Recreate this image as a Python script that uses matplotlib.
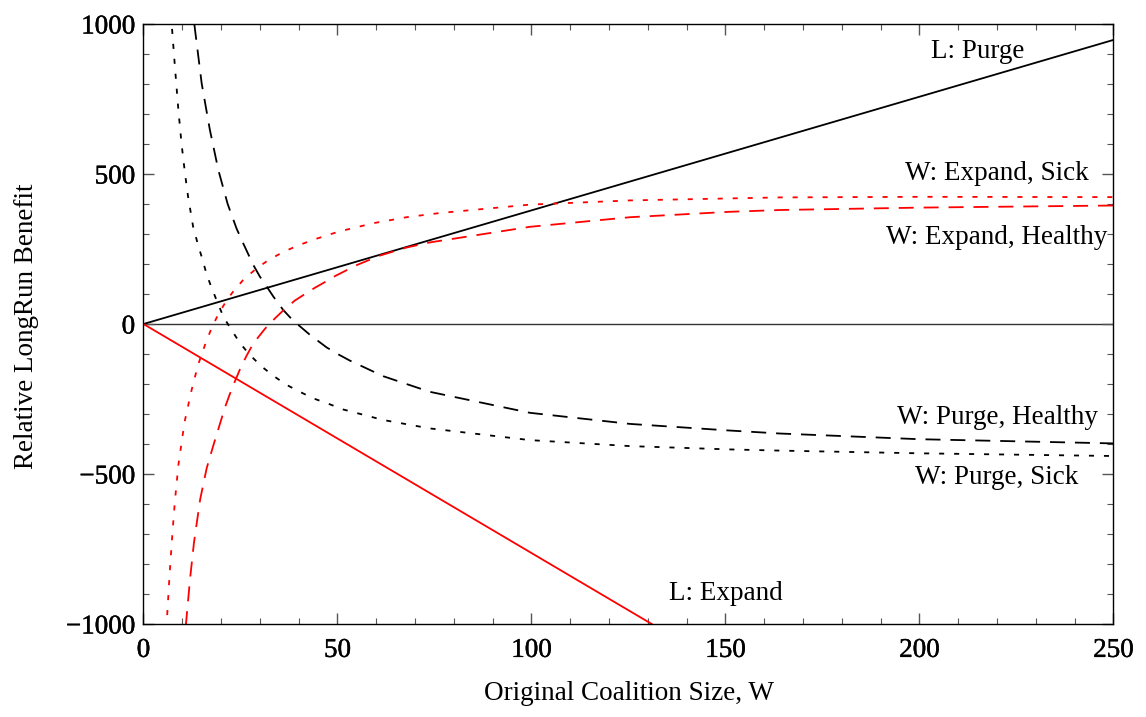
import numpy as np
import matplotlib
matplotlib.use('Agg')
import matplotlib.pyplot as plt
import matplotlib.patheffects as pe
from matplotlib.ticker import MultipleLocator

plt.rcParams['font.family'] = ['Liberation Serif', 'DejaVu Serif']

# values
# L lines (straight, through the origin)
l_purge_w = [0, 250]
l_purge_v = [0, 947]
l_expand_w = [0, 131]
l_expand_v = [0, -1000]

# W: Purge, Healthy (black dashed)
ph_w = [12.6, 13.1, 15.0, 17.1, 19.3, 21.7, 24.0, 25.7, 28.3, 30.0, 31.8, 33.5, 36.0,
        37.8, 39.9, 42.9, 47.2, 50.2, 53.2, 61.8, 73.8, 99.6, 125.4, 151, 164, 200, 250]
ph_v = [1080, 1000, 802, 648, 513, 400, 318, 269, 197, 158, 124, 91, 47,
        22, -3, -36, -78, -101, -122, -174, -226, -296, -333, -355, -365, -384, -398]

# W: Purge, Sick (black dotted)
ps_w = [6.8, 7.27, 8.1, 9.0, 9.8, 10.7, 11.5, 12.8, 14.1, 15.0, 16.3, 17.6, 20.6, 22.7,
        24.9, 27.4, 30.5, 33.5, 36.9, 40.3, 43.8, 48.1, 51.5, 61.8, 73.8, 99.6, 125.4,
        151, 164, 200, 250]
ps_v = [1090, 1000, 858, 713, 602, 502, 424, 324, 262, 224, 165, 119, 24, -20,
        -64, -103, -142, -173, -203, -226, -248, -268, -285, -320, -348, -387, -407,
        -418, -422, -431, -440]

# W: Expand, Sick (red dotted)
es_w = [5.6, 5.97, 6.8, 7.5, 8.1, 9.0, 10.1, 10.7, 12.4, 14.1, 15.9, 17.6, 19.3, 21.4,
        23.1, 25.7, 29.2, 32.2, 36.0, 39.5, 43.8, 48.1, 50.6, 59.2, 67.8, 76.4, 99.6,
        125.4, 164, 200, 250]
es_v = [-1120, -1000, -820, -690, -590, -470, -370, -320, -220, -135, -68, -12, 33, 78,
        108, 147, 186, 213, 240, 260, 281, 299, 309, 336, 356, 370, 398,
        412, 422, 424, 423]

# W: Expand, Healthy (red dashed)
eh_w = [10.5, 10.95, 12.0, 13.0, 14.6, 16.3, 18.0, 19.3, 21.0, 22.3, 23.6, 24.9, 26.6,
        28.3, 31.3, 33.9, 36.0, 39.0, 42.1, 44.2, 46.8, 49.4, 54.9, 60.9, 67.8, 73.8,
        99.6, 125.4, 151, 164, 200, 250]
eh_v = [-1090, -1000, -850, -730, -585, -480, -405, -350, -278, -232, -190, -150, -105,
        -65, -16, 19, 45, 78, 104, 121, 140, 160, 196, 228, 255, 272,
        324, 356, 374, 380, 388, 395]

labels = ['L: Purge', 'L: Expand', 'W: Expand, Sick', 'W: Expand, Healthy',
          'W: Purge, Healthy', 'W: Purge, Sick']
label_pos = [(215, 907), (150, -897), (220, 503), (220, 290), (220, -310), (220, -513)]

fig = plt.figure(figsize=(11.46, 7.17), dpi=100)
ax = fig.add_axes([0.1252, 0.1297, 0.8464, 0.8368])

ax.axhline(0, color='#333333', lw=1.0, zorder=1)

lw = 1.3
dashed = (8.3, 5.5)
dotted = (2.8, 5.5)
ax.plot(l_purge_w, l_purge_v, color='black', lw=lw)
ax.plot(l_expand_w, l_expand_v, color='red', lw=lw)
ax.plot(ph_w, ph_v, color='black', lw=lw, dashes=dashed)
ax.plot(ps_w, ps_v, color='black', lw=lw, dashes=dotted)
ax.plot(es_w, es_v, color='red', lw=lw, dashes=dotted)
ax.plot(eh_w, eh_v, color='red', lw=lw, dashes=dashed)

for txt, (x, y) in zip(labels, label_pos):
    ax.text(x, y, txt, ha='center', va='center', fontsize=19.5)

ax.set_xlim(0, 250)
ax.set_ylim(-1000, 1000)
ax.xaxis.set_major_locator(MultipleLocator(50))
ax.xaxis.set_minor_locator(MultipleLocator(10))
ax.yaxis.set_major_locator(MultipleLocator(500))
ax.yaxis.set_minor_locator(MultipleLocator(100))
ax.tick_params(which='both', direction='in', top=True, right=True,
               color='#555555', labelsize=19.5)
ax.tick_params(which='major', length=8, width=1)
ax.tick_params(which='minor', length=4.5, width=0.8)
ax.tick_params(axis='x', pad=10)
ax.tick_params(axis='y', pad=6)
for s in ax.spines.values():
    s.set_linewidth(1.0)

# tick labels in the original look slightly heavier than the other text
for lab in ax.get_xticklabels() + ax.get_yticklabels():
    lab.set_path_effects([pe.withStroke(linewidth=0.3, foreground='black')])

fig.text(628.5 / 1146, 1 - 693 / 717, 'Original Coalition Size, W',
         ha='center', va='center', fontsize=19.5)
fig.text(27 / 1146, 1 - 326 / 717, 'Relative LongRun Benefit',
         ha='center', va='center', rotation=90, fontsize=19.5)

fig.savefig('out.png', dpi=100)
